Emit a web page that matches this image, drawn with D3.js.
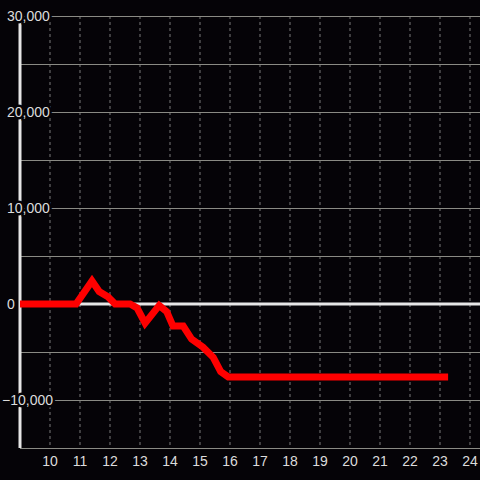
<!DOCTYPE html>
<html>
<head>
<meta charset="utf-8">
<script src="https://d3js.org/d3.v7.min.js"></script>
<style>
  body { margin: 0; background: #050307; }
  svg { display: block; }
  .lbl { font-family: "Liberation Sans", Arial, sans-serif; font-size: 14px; fill: #dcdcdc;
         paint-order: stroke; stroke: #050307; stroke-width: 5px; stroke-linejoin: round; }
</style>
</head>
<body>
<script>
// series (x = hour, y = value)
var xs = [9, 10.87, 11.4, 11.64, 11.93, 12.17, 12.67, 12.9, 13.17, 13.64, 13.89, 14.1, 14.44, 14.72, 15.1, 15.44, 15.69, 15.94, 23.27];
var ys = [0, 0, 2400, 1300, 760, 0, 0, -400, -2000, -150, -800, -2300, -2300, -3650, -4500, -5550, -7050, -7600, -7600];
var xTicks = [10, 11, 12, 13, 14, 15, 16, 17, 18, 19, 20, 21, 22, 23, 24];
var yGrid = [30000, 25000, 20000, 15000, 10000, 5000, 0, -5000, -10000, -15000];
var yLabels = [30000, 20000, 10000, 0, -10000];

var width = 480, height = 480;
var x = d3.scaleLinear().domain([9, 24.333]).range([20, 480]);
var y = d3.scaleLinear().domain([-15000, 30000]).range([448, 16]);
var fmt = d3.format(",");

var svg = d3.select("body").append("svg")
    .attr("width", width).attr("height", height);

svg.append("rect").attr("width", width).attr("height", height).attr("fill", "#050307");

// vertical dashed grid
svg.append("g").selectAll("line").data(xTicks).enter().append("line")
    .attr("x1", d => x(d)).attr("x2", d => x(d))
    .attr("y1", y(30000)).attr("y2", y(-15000))
    .attr("stroke", "#7a7a7a").attr("stroke-width", 1)
    .attr("stroke-dasharray", "3,3");

// horizontal grid
svg.append("g").selectAll("line").data(yGrid.filter(d => d !== 0)).enter().append("line")
    .attr("x1", 20).attr("x2", width)
    .attr("y1", d => Math.round(y(d)) + 0.5).attr("y2", d => Math.round(y(d)) + 0.5)
    .attr("stroke", "#8a8a84").attr("stroke-width", 1);

// zero line
svg.append("line")
    .attr("x1", 20).attr("x2", width)
    .attr("y1", y(0)).attr("y2", y(0))
    .attr("stroke", "#e6e6e6").attr("stroke-width", 3);

// y axis line
svg.append("line")
    .attr("x1", 20).attr("x2", 20)
    .attr("y1", y(30000)).attr("y2", y(-15000))
    .attr("stroke", "#e6e6e6").attr("stroke-width", 3);

// data line
var line = d3.line()
    .x((d, i) => x(xs[i]))
    .y((d, i) => y(ys[i]));

svg.append("path")
    .attr("d", line(xs))
    .attr("fill", "none")
    .attr("stroke", "#ff0000")
    .attr("stroke-width", 7)
    .attr("stroke-linejoin", "miter");

// y labels
svg.append("g").selectAll("text").data(yLabels).enter().append("text")
    .attr("class", "lbl")
    .attr("x", d => d < 0 ? 2 : 7)
    .attr("y", d => y(d))
    .attr("dy", "0.35em")
    .text(d => fmt(d));

// x labels
svg.append("g").selectAll("text").data(xTicks).enter().append("text")
    .attr("class", "lbl")
    .attr("x", d => x(d))
    .attr("y", 461)
    .attr("dy", "0.35em")
    .attr("text-anchor", "middle")
    .text(d => d);
</script>
</body>
</html>
